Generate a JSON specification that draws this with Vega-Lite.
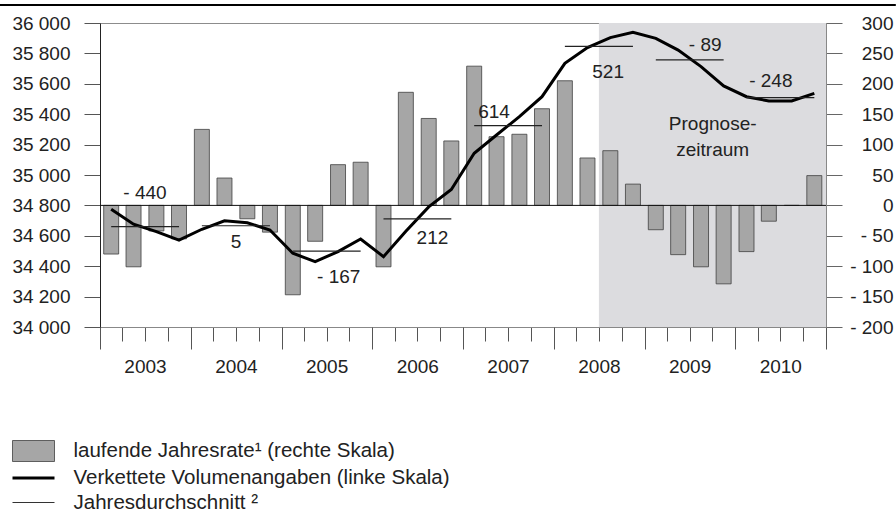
{
  "$schema": "https://vega.github.io/schema/vega-lite/v6.json",
  "width": 726,
  "height": 304,
  "autosize": {"type": "none"},
  "padding": {"left": 100, "top": 23, "right": 70, "bottom": 188},
  "background": "white",
  "config": {
    "font": "Liberation Sans",
    "view": {"stroke": "#8c8c8c", "strokeWidth": 1},
    "axis": {"grid": false, "labelFont": "Liberation Sans", "labelFontSize": 19, "labelColor": "#222222"},
    "text": {"font": "Liberation Sans"}
  },
  "datasets": {
    "quarters": [
      {"date": "2003/02/15", "rate": -80, "volume": 34774},
      {"date": "2003/05/16", "rate": -101, "volume": 34676},
      {"date": "2003/08/16", "rate": -42, "volume": 34627},
      {"date": "2003/11/15", "rate": -55, "volume": 34572},
      {"date": "2004/02/15", "rate": 125, "volume": 34643},
      {"date": "2004/05/16", "rate": 45, "volume": 34699},
      {"date": "2004/08/16", "rate": -22, "volume": 34686},
      {"date": "2004/11/15", "rate": -44, "volume": 34638},
      {"date": "2005/02/15", "rate": -147, "volume": 34485},
      {"date": "2005/05/16", "rate": -59, "volume": 34430},
      {"date": "2005/08/16", "rate": 67, "volume": 34496},
      {"date": "2005/11/15", "rate": 71, "volume": 34579},
      {"date": "2006/02/15", "rate": -101, "volume": 34463},
      {"date": "2006/05/16", "rate": 186, "volume": 34630},
      {"date": "2006/08/16", "rate": 143, "volume": 34790},
      {"date": "2006/11/15", "rate": 106, "volume": 34905},
      {"date": "2007/02/15", "rate": 229, "volume": 35143},
      {"date": "2007/05/16", "rate": 113, "volume": 35263},
      {"date": "2007/08/16", "rate": 117, "volume": 35384},
      {"date": "2007/11/15", "rate": 159, "volume": 35515},
      {"date": "2008/02/15", "rate": 205, "volume": 35735},
      {"date": "2008/05/16", "rate": 78, "volume": 35838},
      {"date": "2008/08/16", "rate": 90, "volume": 35904},
      {"date": "2008/11/15", "rate": 35, "volume": 35939},
      {"date": "2009/02/15", "rate": -40, "volume": 35899},
      {"date": "2009/05/16", "rate": -81, "volume": 35822},
      {"date": "2009/08/16", "rate": -101, "volume": 35713},
      {"date": "2009/11/15", "rate": -129, "volume": 35586},
      {"date": "2010/02/15", "rate": -76, "volume": 35515},
      {"date": "2010/05/16", "rate": -26, "volume": 35487},
      {"date": "2010/08/16", "rate": 0, "volume": 35487},
      {"date": "2010/11/15", "rate": 49, "volume": 35537}
    ],
    "annual": [
      {"from": "2003/02/15", "to": "2003/11/15", "avg": 34661},
      {"from": "2004/02/15", "to": "2004/11/15", "avg": 34666},
      {"from": "2005/02/15", "to": "2005/11/15", "avg": 34499},
      {"from": "2006/02/15", "to": "2006/11/15", "avg": 34711},
      {"from": "2007/02/15", "to": "2007/11/15", "avg": 35325},
      {"from": "2008/02/15", "to": "2008/11/15", "avg": 35846},
      {"from": "2009/02/15", "to": "2009/11/15", "avg": 35757},
      {"from": "2010/02/15", "to": "2010/11/15", "avg": 35509}
    ],
    "labels": [
      {"date": "2003/07/01", "value": 34882, "text": "- 440"},
      {"date": "2004/07/01", "value": 34559, "text": "5"},
      {"date": "2005/08/19", "value": 34331, "text": "- 167"},
      {"date": "2006/08/31", "value": 34584, "text": "212"},
      {"date": "2007/05/06", "value": 35414, "text": "614"},
      {"date": "2008/08/07", "value": 35680, "text": "521"},
      {"date": "2009/09/02", "value": 35853, "text": "- 89"},
      {"date": "2010/05/24", "value": 35618, "text": "- 248"},
      {"date": "2009/10/02", "value": 35336, "text": "Prognose-\nzeitraum"}
    ],
    "legend": [
      {"series": "laufende Jahresrate¹ (rechte Skala)"},
      {"series": "Verkettete Volumenangaben (linke Skala)"},
      {"series": "Jahresdurchschnitt ²"}
    ]
  },
  "resolve": {"scale": {"y": "independent"}, "axis": {"x": "independent", "y": "independent"}},
  "layer": [
    {
      "data": {"values": [{"from": "2008/07/01", "to": "2011/01/01"}]},
      "mark": {"type": "rect", "color": "#dcdcdf"},
      "encoding": {
        "x": {
          "field": "from", "type": "temporal",
          "scale": {"domain": [{"year": 2003, "month": 1, "date": 1}, {"year": 2011, "month": 1, "date": 1}], "nice": false, "padding": 0},
          "axis": {
            "orient": "bottom", "title": null, "grid": false,
            "values": [
              {"year": 2003, "month": 1, "date": 1}, {"year": 2003, "month": 4, "date": 1}, {"year": 2003, "month": 7, "date": 1}, {"year": 2003, "month": 10, "date": 1},
              {"year": 2004, "month": 1, "date": 1}, {"year": 2004, "month": 4, "date": 1}, {"year": 2004, "month": 7, "date": 1}, {"year": 2004, "month": 10, "date": 1},
              {"year": 2005, "month": 1, "date": 1}, {"year": 2005, "month": 4, "date": 1}, {"year": 2005, "month": 7, "date": 1}, {"year": 2005, "month": 10, "date": 1},
              {"year": 2006, "month": 1, "date": 1}, {"year": 2006, "month": 4, "date": 1}, {"year": 2006, "month": 7, "date": 1}, {"year": 2006, "month": 10, "date": 1},
              {"year": 2007, "month": 1, "date": 1}, {"year": 2007, "month": 4, "date": 1}, {"year": 2007, "month": 7, "date": 1}, {"year": 2007, "month": 10, "date": 1},
              {"year": 2008, "month": 1, "date": 1}, {"year": 2008, "month": 4, "date": 1}, {"year": 2008, "month": 7, "date": 1}, {"year": 2008, "month": 10, "date": 1},
              {"year": 2009, "month": 1, "date": 1}, {"year": 2009, "month": 4, "date": 1}, {"year": 2009, "month": 7, "date": 1}, {"year": 2009, "month": 10, "date": 1},
              {"year": 2010, "month": 1, "date": 1}, {"year": 2010, "month": 4, "date": 1}, {"year": 2010, "month": 7, "date": 1}, {"year": 2010, "month": 10, "date": 1},
              {"year": 2011, "month": 1, "date": 1}
            ],
            "tickSize": 14,
            "labelExpr": "month(datum.value) === 6 ? timeFormat(datum.value, '%Y') : ''",
            "labelPadding": 16, "labelFontSize": 19, "labelColor": "#222222",
            "labelOverlap": false, "labelFlush": false, "labelBound": false,
            "domainColor": "#888888", "tickColor": "#555555", "tickWidth": 1, "domainWidth": 1
          }
        },
        "x2": {"field": "to"}
      }
    },
    {
      "data": {"name": "legend"},
      "mark": {"type": "point", "filled": true, "opacity": 1, "clip": true},
      "encoding": {
        "x": {
          "datum": {"year": 2000, "month": 1, "date": 1}, "type": "temporal",
          "axis": {
            "orient": "bottom", "title": null, "grid": false, "domain": false, "labels": false,
            "values": [
              {"year": 2003, "month": 1, "date": 1}, {"year": 2004, "month": 1, "date": 1}, {"year": 2005, "month": 1, "date": 1},
              {"year": 2006, "month": 1, "date": 1}, {"year": 2007, "month": 1, "date": 1}, {"year": 2008, "month": 1, "date": 1},
              {"year": 2009, "month": 1, "date": 1}, {"year": 2010, "month": 1, "date": 1}, {"year": 2011, "month": 1, "date": 1}
            ],
            "tickSize": 22, "tickColor": "#555555", "tickWidth": 1
          }
        },
        "fill": {
          "field": "series", "type": "nominal",
          "scale": {"domain": ["laufende Jahresrate¹ (rechte Skala)", "Verkettete Volumenangaben (linke Skala)", "Jahresdurchschnitt ²"], "range": ["#a6a6a6", "transparent", "transparent"]},
          "legend": {"title": null, "orient": "none", "legendX": -78.5, "legendY": 417, "symbolSize": 441, "labelOffset": 28, "rowPadding": 2, "padding": 0, "labelFontSize": 20.5, "labelFont": "Liberation Sans", "labelColor": "#222222", "labelLimit": 600}
        },
        "stroke": {
          "field": "series", "type": "nominal",
          "scale": {"domain": ["laufende Jahresrate¹ (rechte Skala)", "Verkettete Volumenangaben (linke Skala)", "Jahresdurchschnitt ²"], "range": ["#404040", "#000000", "#333333"]},
          "legend": {"title": null, "orient": "none", "legendX": -78.5, "legendY": 417, "symbolSize": 441, "labelOffset": 28, "rowPadding": 2, "padding": 0, "labelFontSize": 20.5, "labelFont": "Liberation Sans", "labelColor": "#222222", "labelLimit": 600}
        },
        "shape": {
          "field": "series", "type": "nominal",
          "scale": {"domain": ["laufende Jahresrate¹ (rechte Skala)", "Verkettete Volumenangaben (linke Skala)", "Jahresdurchschnitt ²"], "range": ["M-2,-1H2V1H-2Z", "M-2,0H2", "M-2,0H2"]},
          "legend": {"title": null, "orient": "none", "legendX": -78.5, "legendY": 417, "symbolSize": 441, "labelOffset": 28, "rowPadding": 2, "padding": 0, "labelFontSize": 20.5, "labelFont": "Liberation Sans", "labelColor": "#222222", "labelLimit": 600}
        },
        "strokeWidth": {
          "field": "series", "type": "nominal",
          "scale": {"type": "ordinal", "domain": ["laufende Jahresrate¹ (rechte Skala)", "Verkettete Volumenangaben (linke Skala)", "Jahresdurchschnitt ²"], "range": [0.8, 3, 1.2]},
          "legend": {"title": null, "orient": "none", "legendX": -78.5, "legendY": 417, "symbolSize": 441, "labelOffset": 28, "rowPadding": 2, "padding": 0, "labelFontSize": 20.5, "labelFont": "Liberation Sans", "labelColor": "#222222", "labelLimit": 600}
        }
      }
    },
    {
      "data": {"name": "quarters"},
      "mark": {"type": "bar", "size": 15, "fill": "#a6a6a6", "stroke": "#404040", "strokeWidth": 0.8},
      "encoding": {
        "x": {"field": "date", "type": "temporal", "scale": {"padding": 0}, "axis": null},
        "y": {
          "field": "rate", "type": "quantitative",
          "scale": {"domain": [-200, 300], "nice": false, "zero": false},
          "axis": {
            "orient": "right", "title": null, "grid": false,
            "values": [-200, -150, -100, -50, 0, 50, 100, 150, 200, 250, 300],
            "labelExpr": "datum.value < 0 ? '- ' + abs(datum.value) : '' + datum.value",
            "tickSize": 16, "labelPadding": 51, "labelAlign": "right",
            "labelFontSize": 19, "labelColor": "#222222",
            "domainColor": "#888888", "tickColor": "#666666"
          }
        }
      }
    },
    {
      "data": {"values": [{}]},
      "mark": {"type": "rule", "color": "#111111", "strokeWidth": 1},
      "encoding": {"y": {"datum": 0, "type": "quantitative", "scale": {"domain": [-200, 300], "nice": false, "zero": false}, "axis": null}}
    },
    {
      "data": {"name": "quarters"},
      "mark": {"type": "line", "color": "#000000", "strokeWidth": 3},
      "encoding": {
        "x": {"field": "date", "type": "temporal", "axis": null},
        "y": {
          "field": "volume", "type": "quantitative",
          "scale": {"domain": [34000, 36000], "nice": false, "zero": false},
          "axis": {
            "orient": "left", "title": null, "grid": false,
            "values": [34000, 34200, 34400, 34600, 34800, 35000, 35200, 35400, 35600, 35800, 36000],
            "labelExpr": "replace(format(datum.value, ',d'), ',', ' ')",
            "tickSize": 16, "labelPadding": 14,
            "labelFontSize": 19, "labelColor": "#222222",
            "domainColor": "#222222", "tickColor": "#555555"
          }
        }
      }
    },
    {
      "data": {"name": "annual"},
      "mark": {"type": "rule", "color": "#222222", "strokeWidth": 1.2},
      "encoding": {
        "x": {"field": "from", "type": "temporal", "axis": null},
        "x2": {"field": "to"},
        "y": {"field": "avg", "type": "quantitative", "scale": {"domain": [34000, 36000], "nice": false, "zero": false}, "axis": null}
      }
    },
    {
      "data": {"name": "labels"},
      "mark": {"type": "text", "fontSize": 19, "color": "#222222", "align": "center", "baseline": "middle", "lineBreak": "\n", "lineHeight": 26},
      "encoding": {
        "x": {"field": "date", "type": "temporal", "axis": null},
        "y": {"field": "value", "type": "quantitative", "scale": {"domain": [34000, 36000], "nice": false, "zero": false}, "axis": null},
        "text": {"field": "text"}
      }
    },
    {
      "data": {"values": [{}]},
      "mark": {"type": "rule", "color": "#000000", "strokeWidth": 2},
      "encoding": {
        "x": {"datum": {"year": 2001, "month": 11, "date": 24}, "type": "temporal", "axis": null},
        "x2": {"datum": {"year": 2011, "month": 10, "date": 9}},
        "y": {"datum": 36118, "type": "quantitative", "scale": {"domain": [34000, 36000], "nice": false, "zero": false}, "axis": null}
      }
    }
  ]
}
